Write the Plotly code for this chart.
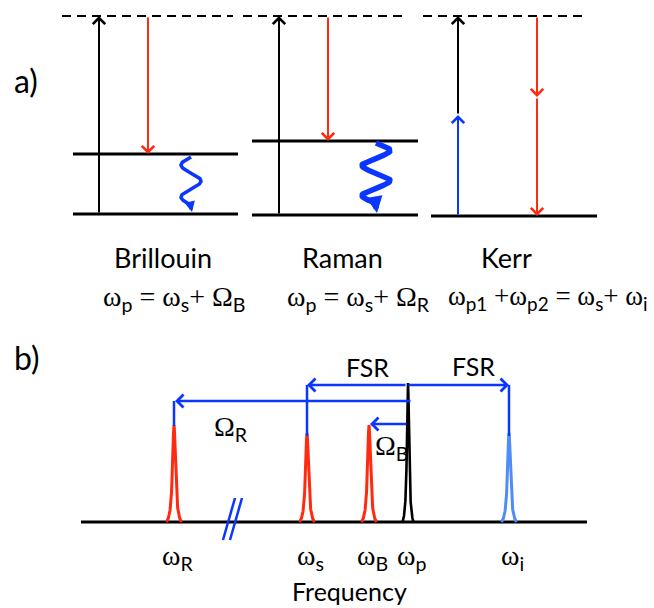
import numpy as np
import plotly.graph_objects as go

SANS = "Lato, sans-serif"
SERIF = "Liberation Serif, serif"

def sb(s):
    return "<sub><span style=\"font-family:Lato\">" + s + "</span></sub>"

# ---------------- Data ----------------
# Part a) energy level diagrams
process_names = ["Brillouin", "Raman", "Kerr"]
equations = [
    "ω" + sb("p") + " = ω" + sb("s") + "+ Ω" + sb("B"),
    "ω" + sb("p") + " = ω" + sb("s") + "+ Ω" + sb("R"),
    "ω" + sb("p1") + " +ω" + sb("p2") + " = ω" + sb("s") + "+ ω" + sb("i"),
]
virtual_y = 16
ground_y = [214, 215, 216]
excited_y = [154, 141]            # Brillouin, Raman phonon levels
level_x0 = [73, 252, 431]
level_x1 = [238, 418, 597]
dash_x0 = [62, 243, 423]
dash_x1 = [233, 406, 585]
pump_x = [99, 279, 458]
stokes_x = [148, 328, 537]
kerr_mid_y = [115, 97]            # blue/black junction, red mid arrowhead
phonon_cx = [191, 376]
phonon_amp = [10, 14]
phonon_y = [(157, 205), (143, 203)]
phonon_period = [32, 30]
phonon_sign = [-1, 1]
phonon_w = [3.5, 5.5]

# Part b) spectrum
peak_labels = ["R", "s", "B", "p", "i"]
peak_pos = [174, 307, 369, 408, 509]
peak_top = [425, 433, 425, 383, 433]
peak_colors = ["#ff2a10", "#ff2a10", "#ff2a10", "#000000", "#4f8cf5"]
baseline_y = 522
baseline_x = [81, 587]
fsr_y = 385
omr_y = 401
omb_y = 424

RED = "#ff2a10"
BLUE = "#0a36ff"
fig = go.Figure()
ann = []

def line(xs, ys, color, width, dash=None):
    fig.add_trace(go.Scatter(x=xs, y=ys, mode="lines", hoverinfo="skip",
                             line=dict(color=color, width=width, dash=dash)))

def arrow(x0, y0, x1, y1, color, width=2, head=4, size=1.0):
    ann.append(dict(x=x1, y=y1, ax=x0, ay=y0, xref="x", yref="y", axref="x", ayref="y",
                    text="", showarrow=True, arrowhead=head, arrowsize=size,
                    arrowwidth=width, arrowcolor=color, standoff=0, startstandoff=0))

def text(x, y, s, size, xanchor="center", family=SANS):
    ann.append(dict(x=x, y=y, xref="x", yref="y", text=s, showarrow=False,
                    xanchor=xanchor, yanchor="middle",
                    font=dict(size=size, color="black", family=family)))

# ---- part a ----
for i in range(3):
    line([dash_x0[i], dash_x1[i]], [virtual_y, virtual_y], "black", 2.2, "9px,6px")
    line([level_x0[i], level_x1[i]], [ground_y[i], ground_y[i]], "black", 2.8)
for i in range(2):
    line([level_x0[i], level_x1[i]], [excited_y[i], excited_y[i]], "black", 2.8)
    arrow(pump_x[i], ground_y[i], pump_x[i], virtual_y, "black", 2, 4, 1.2)
    arrow(stokes_x[i], virtual_y, stokes_x[i], excited_y[i], RED, 2, 4, 1.2)
    # phonon wiggle
    ya, yb = phonon_y[i]
    yy = np.linspace(ya, yb, 120)
    xx = phonon_cx[i] + phonon_sign[i] * phonon_amp[i] * np.sin(2 * np.pi * (yy - ya) / phonon_period[i])
    line(list(xx), list(yy), BLUE, phonon_w[i])
    arrow(xx[-1] - 1, yy[-1] - 2, xx[-1] + 1, ground_y[i] - 2, BLUE, phonon_w[i], 2, 0.6)

# Kerr
arrow(pump_x[2], ground_y[2], pump_x[2], kerr_mid_y[0], BLUE, 2, 4, 1.2)
arrow(pump_x[2], kerr_mid_y[0], pump_x[2], virtual_y, "black", 2, 4, 1.2)
arrow(stokes_x[2], virtual_y, stokes_x[2], kerr_mid_y[1], RED, 2, 4, 1.2)
arrow(stokes_x[2], kerr_mid_y[1], stokes_x[2], ground_y[2], RED, 2, 4, 1.2)

text(12, 80, "a)", 32, "left")
label_x = [163, 342, 506]
eq_x = [101, 285, 650]
eq_anchor = ["left", "left", "right"]
eq_size = [28, 28, 27]
for i in range(3):
    text(label_x[i], 257, process_names[i], 27)
    text(eq_x[i], 298, equations[i], eq_size[i], eq_anchor[i], SERIF)

# ---- part b ----
text(12, 357, "b)", 32, "left")
line(baseline_x, [baseline_y, baseline_y], "black", 3)
g = 1.8
half = 7.5
for i, p in enumerate(peak_pos):
    h = baseline_y - peak_top[i]
    gw = g if i != 3 else 1.3
    hw = half if i != 3 else 5.5
    xs = np.linspace(p - hw, p + hw, 121)
    L = gw**2 / ((xs - p) ** 2 + gw**2)
    Le = gw**2 / (hw**2 + gw**2)
    ys = baseline_y - h * (L - Le) / (1 - Le)
    line(list(xs), list(ys), peak_colors[i], 3 if i != 3 else 2.6)

# blue verticals
line([peak_pos[0], peak_pos[0]], [omr_y, peak_top[0] + 1], BLUE, 2.5)
line([peak_pos[1], peak_pos[1]], [fsr_y, peak_top[1] + 3], BLUE, 2.5)
line([peak_pos[4], peak_pos[4]], [fsr_y, peak_top[4] + 3], BLUE, 2.5)

# arrows
arrow(peak_pos[3] - 1, fsr_y, peak_pos[1], fsr_y, BLUE, 2.5, 4, 1.0)
arrow(peak_pos[3] - 1, fsr_y, peak_pos[4], fsr_y, BLUE, 2.5, 4, 1.0)
arrow(peak_pos[3] + 4, omr_y, peak_pos[0] + 1, omr_y, BLUE, 2.5, 4, 1.0)
arrow(peak_pos[3], omb_y, peak_pos[2] + 1, omb_y, BLUE, 2.5, 4, 1.0)

# break marks
line([223, 235], [540, 498], BLUE, 2.5)
line([230, 242], [540, 498], BLUE, 2.5)

text(367, 367, "FSR", 25)
text(473, 366, "FSR", 25)
text(231, 428, "Ω" + sb("R"), 28, family=SERIF)
text(391, 447, "Ω" + sb("B"), 28, family=SERIF)

for i, p in enumerate(peak_pos):
    text(p + 3, 557, "ω" + sb(peak_labels[i]), 28, family=SERIF)
text(349, 591, "Frequency", 25)

fig.update_layout(
    width=654, height=608, margin=dict(l=0, r=0, t=0, b=0),
    paper_bgcolor="white", plot_bgcolor="white", showlegend=False,
    xaxis=dict(range=[0, 654], visible=False, fixedrange=True),
    yaxis=dict(range=[608, 0], visible=False, fixedrange=True),
    annotations=ann,
)
fig.write_html("out.html", config={"displayModeBar": False},
               post_script="document.body.style.margin='0px';document.body.style.overflow='hidden';")
